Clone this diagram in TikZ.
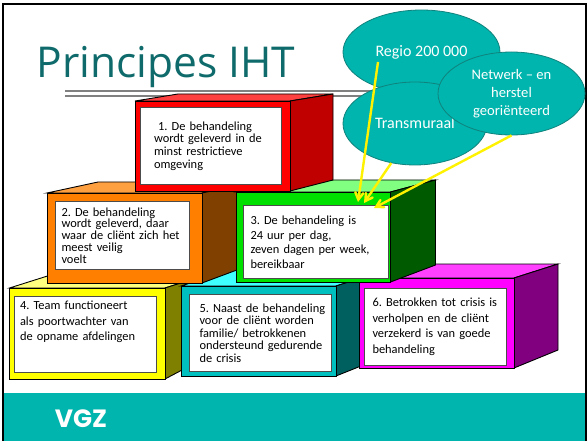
\documentclass[tikz,border=0pt]{standalone}
\usepackage{fontspec}
\setmainfont{Carlito}
\newfontfamily\titelfont{Open Sans}
\newfontfamily\logofont{Poppins}
\usetikzlibrary{arrows,positioning,calc,shapes.geometric}
\definecolor{vzteal}{RGB}{0,181,173}
\definecolor{vzrand}{RGB}{16,130,125}
\definecolor{vztitel}{RGB}{15,107,107}
\definecolor{rood}{RGB}{255,0,0}      \definecolor{roodl}{RGB}{255,64,64}    \definecolor{roodd}{RGB}{192,0,0}
\definecolor{oranje}{RGB}{255,128,0}  \definecolor{oranjel}{RGB}{255,160,64} \definecolor{oranjed}{RGB}{128,64,0}
\definecolor{groen}{RGB}{0,224,0}     \definecolor{groenl}{RGB}{128,255,128} \definecolor{groend}{RGB}{0,90,0}
\definecolor{geel}{RGB}{255,255,0}    \definecolor{geell}{RGB}{255,255,128}  \definecolor{geeld}{RGB}{128,128,0}
\definecolor{blauw}{RGB}{0,191,191}   \definecolor{blauwl}{RGB}{64,255,255}  \definecolor{blauwd}{RGB}{0,96,96}
\definecolor{paars}{RGB}{255,0,255}   \definecolor{paarsl}{RGB}{255,64,255}  \definecolor{paarsd}{RGB}{128,0,128}
% kleur, x, y, breedte, hoogte, diepte, stijging boven, stijging onder
\newcommand{\blok}[8]{
\draw[blokrand,fill=#1l] (#2,#3) -- ++(#6,-#7) -- ++(#4,0) -- (#2+#4,#3) -- cycle;
\draw[blokrand,fill=#1d] (#2+#4,#3) -- ++(#6,-#7) -- (#2+#4+#6,#3+#5-#8) -- (#2+#4,#3+#5) -- cycle;
\draw[blokrand,fill=#1] (#2,#3) rectangle ++(#4,#5);
}
\frenchspacing
\begin{document}
\begin{tikzpicture}[x=1pt, y=-1pt, >=angle 60]
\tikzstyle{blokrand}=[draw=black,line width=0.9pt]
\tikzstyle{tekstvak}=[draw=black!70,line width=1pt,fill=white,anchor=north west,inner xsep=0pt,inner ysep=0pt,align=left,font=\fontsize{12.4}{12.6}\selectfont]
\tikzstyle{wolk}=[ellipse,draw=vzrand,line width=0.8pt,fill=vzteal,text=white,inner sep=0pt,align=center,font=\fontsize{16}{18}\selectfont]
\tikzstyle{pijl}=[->,draw=yellow,line width=2.4pt]
\useasboundingbox (0,0) rectangle (587,441);
\fill[white] (0,0) rectangle (587,441);
\fill[vzteal] (3,393) rectangle (585,441);
\draw[black,line width=2pt] (2.5,441) -- (2.5,4) -- (586,4) -- (586,441);
\node[font=\titelfont\fontsize{42.5}{43}\selectfont,text=vztitel,anchor=base] (titel) at (166,78) {Principes IHT};
\draw[black!50,line width=2pt] (65,91) -- (371,91);
\draw[black!50,line width=1.4pt] (65,96) -- (371,96);
\blok{geel}{9.5}{288}{155.5}{91}{38}{12}{20}
\node[tekstvak,minimum width=142pt,minimum height=76pt,text width=142pt] (vier) at (13.5,296) {\hspace{6pt}4. Team functioneert\\[3.5pt]\hspace{6pt}als poortwachter van\\[2pt]\hspace{6pt}de opname afdelingen\\[15pt]~};
\blok{blauw}{181}{286}{155}{90}{50}{16}{20}
\node[tekstvak,minimum width=142pt,minimum height=77pt,text width=142pt] (vijf) at (189,294) {\hspace{10pt}5. Naast de behandeling\\\hspace{10pt}voor de cliënt worden\\\hspace{10pt}familie/ betrokkenen\\\hspace{10pt}ondersteund gedurende\\\hspace{10pt}de crisis};
\blok{paars}{359.5}{278}{154.5}{90}{44}{14}{18}
\node[tekstvak,minimum width=141.5pt,minimum height=77pt,text width=141.5pt] (zes) at (364,288) {\hspace{8pt}6. Betrokken tot crisis is\\[3.2pt]\hspace{8pt}verholpen en de cliënt\\[2.5pt]\hspace{8pt}verzekerd is van goede\\[3.2pt]\hspace{8pt}behandeling};
\blok{oranje}{47}{193}{155}{90}{51}{11}{19}
\node[tekstvak,minimum width=134pt,minimum height=68pt,text width=134pt] (twee) at (55,201) {\hspace{6pt}2. De behandeling\\[-1pt]\hspace{6pt}wordt geleverd, daar\\[-1pt]\hspace{6pt}waar de cliënt zich het\\\hspace{6pt}meest veilig\\[-1pt]\hspace{6pt}voelt};
\blok{groen}{236.5}{192}{154}{90}{45}{12}{17}
\node[tekstvak,minimum width=145pt,minimum height=73pt,text width=145pt] (drie) at (243,205) {\hspace{7pt}3. De behandeling is\\[2.4pt]\hspace{7pt}24 uur per dag,\\[1.5pt]\hspace{7pt}zeven dagen per week,\\[2.4pt]\hspace{7pt}bereikbaar};
\blok{rood}{135}{101}{155}{90}{43}{7}{11}
\node[tekstvak,minimum width=141.5pt,minimum height=77pt,text width=141.5pt] (een) at (139.5,107) {\hspace{14pt}\,\,1. De behandeling\\\hspace{14pt}wordt geleverd in de\\\hspace{14pt}minst restrictieve\\\hspace{14pt}omgeving};
\node[wolk,minimum width=157pt,minimum height=84pt] (regio) at (421.5,52) {Regio 200 000};
\node[wolk,minimum width=144pt,minimum height=83pt] (transmuraal) at (415,123.5) {Transmuraal};
\node[wolk,minimum width=147pt,minimum height=83pt,font=\fontsize{14.6}{18}\selectfont] (netwerk) at (511.5,93.5) {Netwerk -- en\\herstel\\georiënteerd};
\coordinate (regiovoet) at (378,62);
\coordinate (driea) at (358,202);
\coordinate (drieb) at (364,203);
\coordinate (driec) at (374,208);
\draw[pijl] (regiovoet) -- (driea);
\draw[pijl] (transmuraal.-121) -- (drieb);
\draw[pijl] (netwerk.south) -- (driec);
\node[font=\logofont\bfseries\fontsize{25}{25}\selectfont,text=white,anchor=base] (logo) at (81,427) {VGZ};
\end{tikzpicture}
\end{document}
